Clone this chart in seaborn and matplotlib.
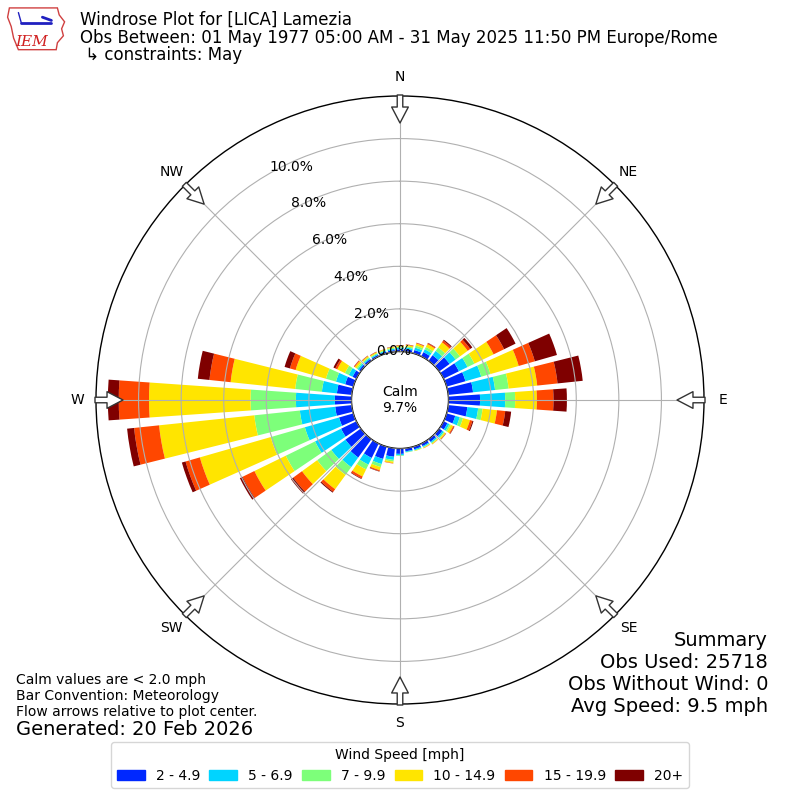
import numpy as np
import matplotlib
matplotlib.use("Agg")
import matplotlib.pyplot as plt
from matplotlib.patches import Patch, Polygon
import seaborn as sns

# direction bins (degrees, where the wind comes from)
directions = list(range(0, 360, 10))

speed_bins = ["2 - 4.9", "5 - 6.9", "7 - 9.9", "10 - 14.9", "15 - 19.9", "20+"]
bin_colors = ["#0028ff", "#00d4ff", "#7dff7a", "#ffe500", "#ff4700", "#7f0000"]

# percent of observations per direction, one list per speed bin
spd_2_5 = [0.10, 0.12, 0.16, 0.22, 0.32, 0.60, 0.80, 0.92, 1.17, 1.48, 0.90, 0.42,
           0.20, 0.18, 0.15, 0.13, 0.13, 0.14, 0.25, 0.40, 0.60, 0.75, 1.06, 0.89,
           0.80, 0.70, 0.78, 0.78, 0.70, 0.40, 0.20, 0.10, 0.10, 0.08, 0.08, 0.08]
spd_5_7 = [0.07, 0.08, 0.12, 0.15, 0.25, 0.35, 0.45, 0.77, 1.04, 1.18, 0.51, 0.22,
           0.10, 0.08, 0.06, 0.05, 0.05, 0.04, 0.07, 0.15, 0.25, 0.35, 0.56, 0.82,
           1.36, 1.67, 1.67, 1.83, 0.71, 0.45, 0.20, 0.08, 0.06, 0.05, 0.05, 0.06]
spd_7_10 = [0.05, 0.06, 0.10, 0.12, 0.20, 0.25, 0.36, 0.45, 0.64, 0.47, 0.21, 0.16,
            0.08, 0.05, 0.04, 0.03, 0.02, 0.02, 0.03, 0.08, 0.15, 0.25, 0.45, 0.82,
            1.53, 1.67, 2.15, 2.13, 1.26, 0.49, 0.20, 0.07, 0.05, 0.04, 0.04, 0.05]
spd_10_15 = [0.05, 0.06, 0.10, 0.15, 0.30, 0.45, 1.00, 1.38, 1.35, 1.02, 0.68, 0.34,
             0.12, 0.06, 0.04, 0.03, 0.02, 0.00, 0.00, 0.07, 0.15, 0.37, 0.83, 0.88,
             1.64, 3.46, 4.50, 4.77, 3.05, 1.48, 0.40, 0.10, 0.06, 0.05, 0.04, 0.04]
spd_15_20 = [0.02, 0.02, 0.03, 0.05, 0.10, 0.15, 0.55, 0.79, 0.96, 0.78, 0.39, 0.12,
             0.05, 0.02, 0.01, 0.01, 0.00, 0.00, 0.00, 0.02, 0.05, 0.10, 0.15, 0.51,
             0.62, 0.70, 1.18, 1.42, 1.00, 0.28, 0.10, 0.04, 0.02, 0.02, 0.01, 0.01]
spd_20 = [0.01, 0.01, 0.01, 0.02, 0.05, 0.12, 0.60, 1.08, 1.19, 0.63, 0.28, 0.05,
          0.02, 0.01, 0.00, 0.00, 0.00, 0.00, 0.00, 0.00, 0.02, 0.03, 0.05, 0.13,
          0.14, 0.18, 0.33, 0.51, 0.55, 0.26, 0.10, 0.01, 0.01, 0.01, 0.00, 0.01]

ring_values = [0, 2, 4, 6, 8, 10]
compass = ["N", "NE", "E", "SE", "S", "SW", "W", "NW"]

calm_pct = 9.7
rmax = 12.0
rorigin = -2.28

sns.set_style("white")
plt.rcParams["font.family"] = ["DejaVu Sans"]
plt.rcParams["text.color"] = "black"
plt.rcParams["xtick.color"] = "black"
plt.rcParams["ytick.color"] = "black"
plt.rcParams["axes.labelcolor"] = "black"

fig = plt.figure(figsize=(8, 8), dpi=100)
ax = fig.add_axes([0.12, 0.12, 0.76, 0.76], projection="polar")
ax.set_theta_zero_location("N")
ax.set_theta_direction(-1)

theta = np.deg2rad(directions)
width = np.deg2rad(8)
bottom = np.zeros(len(directions))
for vals, color, label in zip([spd_2_5, spd_5_7, spd_7_10, spd_10_15, spd_15_20, spd_20],
                              bin_colors, speed_bins):
    ax.bar(theta, vals, width=width, bottom=bottom, color=color, label=label,
           linewidth=0, zorder=1)
    bottom = bottom + np.array(vals)

ax.set_rorigin(rorigin)
ax.set_ylim(0, rmax)
ax.set_axisbelow(False)
ax.set_rticks(ring_values)
ax.set_yticklabels([f"{v:.1f}%" for v in ring_values], fontsize=10, color="black")
ax.set_rlabel_position(330)
ax.set_thetagrids(np.arange(0, 360, 45), labels=[""] * 8)
ax.grid(True, color="#b0b0b0", linewidth=0.8)
for sp in ax.spines.values():
    sp.set_color("black")
    sp.set_linewidth(1.0)

# compass labels and flow arrows
r_lab = 323 / 304 * (rmax - rorigin) + rorigin
r_out = 305 / 304 * (rmax - rorigin) + rorigin
r_in = 277 / 304 * (rmax - rorigin) + rorigin
for ang, name in zip(range(0, 360, 45), compass):
    th = np.deg2rad(ang)
    ax.text(th, r_lab, name, ha="center", va="center", fontsize=10, clip_on=False)
    ax.annotate("", xy=(th, r_in), xytext=(th, r_out), annotation_clip=False,
                arrowprops=dict(arrowstyle="simple,head_length=1.15,head_width=1.2,tail_width=0.4",
                                fc="white", ec="#333333", lw=1, shrinkA=0, shrinkB=0))

ax.text(0.5, 0.5, f"Calm\n{calm_pct}%", transform=ax.transAxes, ha="center",
        va="center", fontsize=10)

# header
fig.text(0.1, 0.975, "Windrose Plot for [LICA] Lamezia", fontsize=12, va="center")
fig.text(0.1, 0.953, "Obs Between: 01 May 1977 05:00 AM - 31 May 2025 11:50 PM Europe/Rome",
         fontsize=12, va="center")
fig.text(0.1, 0.931, " \u21b3 constraints: May", fontsize=12, va="center")

# rough IEM logo
lax = fig.add_axes([0.008, 0.935, 0.075, 0.058])
lax.set_xlim(0, 1)
lax.set_ylim(0, 1)
lax.axis("off")
outline = [(0.05, 0.95), (0.85, 0.95), (0.88, 0.8), (0.97, 0.65), (0.92, 0.5),
           (0.95, 0.35), (0.85, 0.2), (0.83, 0.05), (0.2, 0.05), (0.12, 0.3),
           (0.08, 0.55), (0.02, 0.75)]
lax.add_patch(Polygon(outline, closed=True, fill=False, ec="#d04040", lw=1))
lax.plot([0.25, 0.75], [0.62, 0.62], color="#2020c0", lw=2)
lax.plot([0.6, 0.75], [0.75, 0.68], color="#2020c0", lw=2)
lax.plot([0.25, 0.2], [0.62, 0.85], color="#2020c0", lw=1)
lax.text(0.42, 0.22, "IEM", color="#d02020", fontsize=11, family="serif",
         style="italic", ha="center", va="center")

# footer notes
fig.text(0.02, 0.15, "Calm values are < 2.0 mph", fontsize=10, va="center")
fig.text(0.02, 0.13, "Bar Convention: Meteorology", fontsize=10, va="center")
fig.text(0.02, 0.11, "Flow arrows relative to plot center.", fontsize=10, va="center")
fig.text(0.02, 0.088, "Generated: 20 Feb 2026", fontsize=14, va="center")

summary = ["Summary", "Obs Used: 25718", "Obs Without Wind: 0", "Avg Speed: 9.5 mph"]
for i, line in enumerate(summary):
    fig.text(0.96, 0.2 - i * 0.0275, line, fontsize=14, ha="right", va="center")

handles = [Patch(color=c) for c in bin_colors]
fig.legend(handles, speed_bins, loc="lower center", bbox_to_anchor=(0.5, 0.006),
           ncol=6, title="Wind Speed [mph]", fontsize=10, title_fontsize=10,
           handlelength=2.0, handletextpad=0.8, columnspacing=0.66, frameon=True)

fig.savefig("out.png", dpi=100)
